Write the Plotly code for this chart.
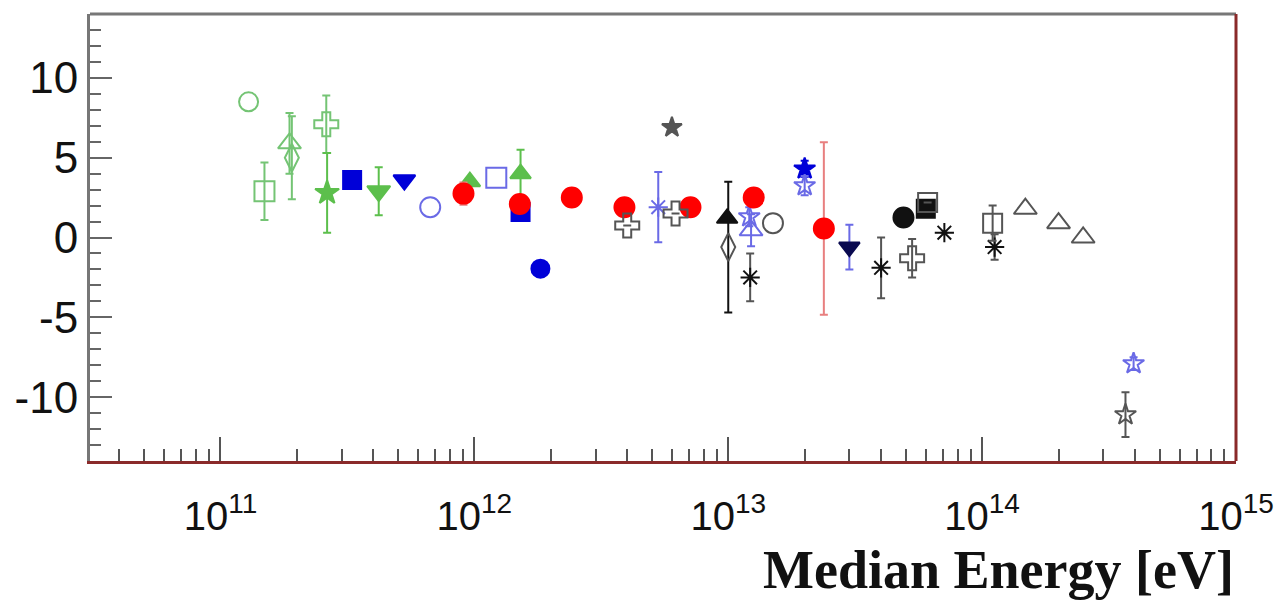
import plotly.graph_objects as go

# ---- data ----
green_circle_open_x = [1.29e11]; green_circle_open_y = [8.5]; green_circle_open_e = [0]
green_square_open_x = [1.49e11]; green_square_open_y = [2.9]; green_square_open_e = [1.8]
green_tri_open_x = [1.87e11]; green_tri_open_y = [5.9]; green_tri_open_e = [1.9]
green_diam_open_x = [1.91e11]; green_diam_open_y = [5.0]; green_diam_open_e = [2.6]
green_cross_open_x = [2.61e11]; green_cross_open_y = [7.1]; green_cross_open_e = [1.8]
green_star_x = [2.63e11]; green_star_y = [2.8]; green_star_e = [2.5]
green_tridown_x = [4.2e11]; green_tridown_y = [2.9]; green_tridown_e = [1.5]
green_tri_x = [9.6e11, 1.52e12]; green_tri_y = [3.5, 4.0]; green_tri_e = [0, 1.5]

blue_square_x = [3.3e11, 1.52e12]; blue_square_y = [3.6, 1.6]
blue_tridown_x = [5.3e11]; blue_tridown_y = [3.6]
blue_circle_open_x = [6.7e11]; blue_circle_open_y = [1.9]
blue_square_open_x = [1.22e12]; blue_square_open_y = [3.75]
blue_circle_x = [1.82e12]; blue_circle_y = [-1.95]
blue_asterisk_x = [5.3e12]; blue_asterisk_y = [1.9]; blue_asterisk_e = [2.2]
blue_tri_open_x = [1.23e13]; blue_tri_open_y = [0.45]; blue_tri_open_e = [1.0]
blue_star_x = [2.0e13]; blue_star_y = [4.3]; blue_star_e = [0.5]
blue_star_open_x = [1.21e13, 2.0e13, 3.95e14]; blue_star_open_y = [1.3, 3.25, -7.9]; blue_star_open_e = [0.6, 0.6, 0.4]

red_x = [9.06e11, 1.51e12, 2.42e12, 3.9e12, 7.1e12, 1.26e13, 2.38e13]
red_y = [2.75, 2.1, 2.5, 1.9, 1.9, 2.5, 0.56]
red_e = [0.7, 0.4, 0, 0, 0, 0, 5.4]

gray_star_x = [6.0e12]; gray_star_y = [6.9]
black_cross_open_x = [4.0e12, 6.2e12, 5.3e13]; black_cross_open_y = [0.75, 1.5, -1.3]; black_cross_open_e = [0, 0, 1.2]
black_tri_x = [9.9e12]; black_tri_y = [1.2]
black_diam_open_x = [1.0e13]; black_diam_open_y = [-0.6]; black_diam_open_e = [4.1]
black_asterisk_x = [1.22e13, 4.0e13, 7.1e13, 1.12e14]; black_asterisk_y = [-2.5, -1.9, 0.3, -0.6]; black_asterisk_e = [1.5, 1.9, 0, 0.8]
gray_circle_open_x = [1.5e13]; gray_circle_open_y = [0.9]
navy_tridown_x = [3.0e13]; navy_tridown_y = [-0.6]; navy_tridown_e = [1.4]
black_circle_x = [4.9e13]; black_circle_y = [1.25]
black_square_x = [6.0e13]; black_square_y = [1.8]
black_square_open_x = [6.1e13, 1.1e14]; black_square_open_y = [2.2, 0.9]; black_square_open_e = [0, 1.1]
black_tri_open_x = [1.48e14, 2.0e14, 2.5e14]; black_tri_open_y = [1.8, 0.9, 0.0]
black_star_open_x = [3.67e14]; black_star_open_y = [-11.1]; black_star_open_e = [1.4]

x_tickvals = [1e11, 1e12, 1e13, 1e14, 1e15]
x_ticktext = ["10<sup>11</sup>", "10<sup>12</sup>", "10<sup>13</sup>", "10<sup>14</sup>", "10<sup>15</sup>"]
y_tickvals = [-10, -5, 0, 5, 10]
y_ticktext = ["-10", "-5", "0", "5", "10"]

GREEN = "#74C474"
GREEN_F = "#5CBF4C"
BLUE = "#0000D8"
BLUE_L = "#6A6AE6"
RED = "#FF0000"
BLACK = "#111111"
GRAY = "#555555"
NAVY = "#0A0A50"

fig = go.Figure()


def add(x, y, symbol, color, size=18, err=None, ecolor=None, lw=2):
    kw = {}
    if err is not None:
        kw["error_y"] = dict(type="data", array=err, visible=True,
                             color=ecolor or color, thickness=2, width=4)
    fig.add_trace(go.Scatter(
        x=x, y=y, mode="markers",
        marker=dict(symbol=symbol, color=color, size=size,
                    line=dict(color=color, width=lw)),
        showlegend=False, **kw))


# green
add(green_circle_open_x, green_circle_open_y, "circle-open", GREEN, 19)
add(green_square_open_x, green_square_open_y, "square-open", GREEN, 20, green_square_open_e)
add(green_tri_open_x, green_tri_open_y, "triangle-up-open", GREEN, 20, green_tri_open_e)
add(green_diam_open_x, green_diam_open_y, "diamond-tall-open", GREEN, 20, green_diam_open_e)
add(green_cross_open_x, green_cross_open_y, "cross-open", GREEN, 20, green_cross_open_e)
add(green_star_x, green_star_y, "star", GREEN_F, 18, green_star_e)
add(green_tridown_x, green_tridown_y, "triangle-down", GREEN_F, 20, green_tridown_e)
add(green_tri_x, green_tri_y, "triangle-up", GREEN_F, 18, green_tri_e)

# blue
add(blue_square_x, blue_square_y, "square", BLUE, 18)
add(blue_tridown_x, blue_tridown_y, "triangle-down", BLUE, 19)
add(blue_circle_open_x, blue_circle_open_y, "circle-open", BLUE_L, 20)
add(blue_square_open_x, blue_square_open_y, "square-open", BLUE_L, 20)
add(blue_circle_x, blue_circle_y, "circle", BLUE, 18)
add(blue_asterisk_x, blue_asterisk_y, "asterisk-open", BLUE_L, 16, blue_asterisk_e)
add(blue_tri_open_x, blue_tri_open_y, "triangle-up-open", BLUE_L, 20, blue_tri_open_e)
add(blue_star_x, blue_star_y, "star", BLUE, 16, blue_star_e)
add(blue_star_open_x, blue_star_open_y, "star-open", BLUE_L, 16, blue_star_open_e)

# red
add(red_x, red_y, "circle", RED, 20, red_e, ecolor="#E87F7F")

# black / gray
add(gray_star_x, gray_star_y, "star", GRAY, 15)
add(black_cross_open_x, black_cross_open_y, "cross-open", GRAY, 20, black_cross_open_e)
add(black_tri_x, black_tri_y, "triangle-up", BLACK, 18)
add(black_diam_open_x, black_diam_open_y, "diamond-tall-open", GRAY, 20, black_diam_open_e, ecolor=BLACK)
add(black_asterisk_x, black_asterisk_y, "asterisk-open", BLACK, 16, black_asterisk_e, ecolor=GRAY)
add(gray_circle_open_x, gray_circle_open_y, "circle-open", GRAY, 20)
add(navy_tridown_x, navy_tridown_y, "triangle-down", NAVY, 18, navy_tridown_e, ecolor=BLUE_L)
add(black_circle_x, black_circle_y, "circle", BLACK, 20)
add(black_square_x, black_square_y, "square", BLACK, 18)
add(black_square_open_x, black_square_open_y, "square-open", GRAY, 19, black_square_open_e)
add(black_tri_open_x, black_tri_open_y, "triangle-up-open", GRAY, 20)
add(black_star_open_x, black_star_open_y, "star-open", GRAY, 16, black_star_open_e)

AXRED = "#8A2A2A"
AXGRAY = "#777777"

fig.update_layout(
    width=1286, height=600,
    margin=dict(l=90, r=46, t=14, b=139),
    paper_bgcolor="white", plot_bgcolor="white",
    font=dict(family="Liberation Sans, Arial, sans-serif", color="#111111"),
    xaxis=dict(
        type="log", range=[10.486, 15],
        showgrid=False, zeroline=False,
        showline=True, linecolor=AXRED, linewidth=3,
        tickmode="array", tickvals=x_tickvals, ticktext=x_ticktext,
        ticks="inside", ticklen=24, tickwidth=2, tickcolor="#555555",
        tickfont=dict(size=40), ticklabelstandoff=18,
        minor=dict(ticks="inside", ticklen=12, tickwidth=2, tickcolor="#555555",
                   dtick="D1", showgrid=False),
    ),
    yaxis=dict(
        range=[-14, 14],
        showgrid=False, zeroline=False,
        showline=True, linecolor=AXGRAY, linewidth=3,
        tickmode="array", tickvals=y_tickvals, ticktext=y_ticktext,
        ticks="inside", ticklen=22, tickwidth=2, tickcolor="#666666",
        tickfont=dict(size=44),
        minor=dict(ticks="inside", ticklen=11, tickwidth=2, tickcolor="#666666",
                   dtick=1, showgrid=False),
    ),
    shapes=[
        dict(type="line", xref="paper", yref="paper", x0=0, x1=1, y0=1, y1=1,
             line=dict(color=AXGRAY, width=3)),
        dict(type="line", xref="paper", yref="paper", x0=1, x1=1, y0=0, y1=1,
             line=dict(color=AXRED, width=3)),
    ],
    annotations=[
        dict(text="<b>Median Energy [eV]</b>", xref="paper", yref="paper",
             x=1.0, y=0, xanchor="right", yanchor="bottom", yshift=-141,
             showarrow=False,
             font=dict(family="Liberation Serif, Times New Roman, serif", size=54, color="#111111")),
    ],
)

fig.write_html("out.html")
